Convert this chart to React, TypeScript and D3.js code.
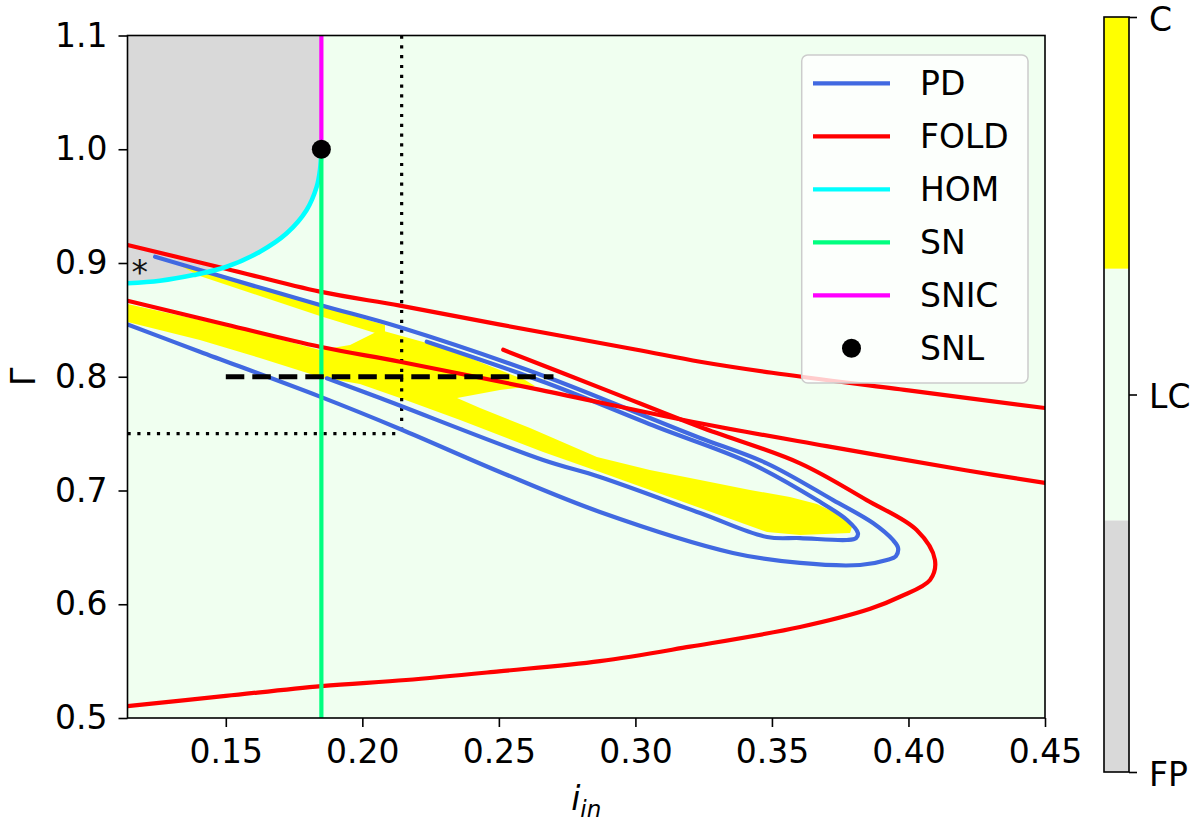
import * as d3 from 'd3'
import { useEffect, useRef } from 'react'

type Pt = [number, number]

// axis ticks / colorbar
const xTicks = [0.15, 0.2, 0.25, 0.3, 0.35, 0.4, 0.45]
const yTicks = [0.5, 0.6, 0.7, 0.8, 0.9, 1.0, 1.1]
const regionLabels = ['FP', 'LC', 'C']
const regionColors = ['#d9d9d9', '#f0fff0', '#ffff00']

// single points / reference lines
const snI = 0.185
const snlPoint: Pt = [0.185, 1.0]
const starPoint: Pt = [0.1185, 0.897]
const dottedI = 0.2144
const dottedG = 0.75
const dashedG = 0.8
const dashedFrom = 0.15
const dashedTo = 0.27

// bifurcation curves (i_in, Gamma)
const homCurve: Pt[] = [
  [0.185, 1.0], [0.1845, 0.982], [0.1833, 0.9671], [0.1796, 0.9466], [0.1723, 0.9261],
  [0.1625, 0.9099], [0.1503, 0.8967], [0.1381, 0.8894], [0.1259, 0.8844], [0.114, 0.8822],
]
const foldUpper: Pt[] = [
  [0.114, 0.9158], [0.15, 0.895], [0.1845, 0.8748], [0.2138, 0.8625], [0.25, 0.846],
  [0.3, 0.824], [0.3237, 0.8132], [0.35, 0.8035], [0.4, 0.788], [0.45, 0.7725],
]
const foldLower: Pt[] = [
  [0.114, 0.8668], [0.15, 0.846], [0.1845, 0.8264], [0.2138, 0.8132], [0.2651, 0.7885],
  [0.3237, 0.7591], [0.37, 0.739], [0.4209, 0.7178], [0.45, 0.7066],
]
const foldLoop: Pt[] = [
  [0.2516, 0.8237], [0.29, 0.7876], [0.3237, 0.7558], [0.3603, 0.7239], [0.3847, 0.6916],
  [0.403, 0.6653], [0.4097, 0.6389], [0.4079, 0.6213], [0.3969, 0.6066], [0.386, 0.596],
  [0.3603, 0.58], [0.32, 0.5627], [0.287, 0.55], [0.25, 0.541], [0.216, 0.5334],
  [0.185, 0.5281], [0.15, 0.5194], [0.114, 0.5104],
]
const pdOuter: Pt[] = [
  [0.1241, 0.9055], [0.1405, 0.8938], [0.1845, 0.8631], [0.2138, 0.8435], [0.2675, 0.7998],
  [0.3053, 0.7637], [0.3237, 0.7462], [0.3481, 0.7239], [0.3724, 0.6916], [0.387, 0.6714],
  [0.3943, 0.6565], [0.3962, 0.6494], [0.3954, 0.6424], [0.3921, 0.6389], [0.3823, 0.6345],
  [0.3603, 0.6363], [0.3357, 0.6451], [0.287, 0.6811], [0.2504, 0.7163], [0.2138, 0.7541],
  [0.1845, 0.7825], [0.1405, 0.822], [0.114, 0.8459],
]
const pdInner: Pt[] = [
  [0.2236, 0.8308], [0.2675, 0.7945], [0.3079, 0.7558], [0.342, 0.7242], [0.3665, 0.6916],
  [0.3775, 0.6741], [0.3815, 0.6626], [0.3808, 0.6582], [0.3775, 0.6565], [0.3603, 0.6582],
  [0.3482, 0.6591], [0.3237, 0.6802], [0.287, 0.7119], [0.2662, 0.7268], [0.2065, 0.7813],
  [0.187, 0.7986],
]

// chaotic regions (outlines)
const chaosUpper: Pt[] = [
  [0.1314, 0.9], [0.1625, 0.878], [0.1845, 0.8622], [0.2083, 0.8455],
  [0.2083, 0.8358], [0.1845, 0.8534], [0.1625, 0.871], [0.1405, 0.8886],
]
const chaosMain: Pt[] = [
  [0.114, 0.864], [0.1405, 0.8499], [0.1625, 0.8376], [0.1845, 0.8235], [0.1955, 0.8279],
  [0.2065, 0.8411], [0.2236, 0.8297], [0.2394, 0.8165], [0.2596, 0.7971], [0.2632, 0.7919],
  [0.2504, 0.7884], [0.2347, 0.7813], [0.2431, 0.7725], [0.2614, 0.7549], [0.2859, 0.7295],
  [0.3053, 0.718], [0.3237, 0.7092], [0.342, 0.7004], [0.3566, 0.6943], [0.3665, 0.6881],
  [0.3749, 0.6785], [0.3793, 0.6679], [0.3786, 0.6626], [0.3603, 0.6609], [0.3482, 0.6635],
  [0.3237, 0.6846], [0.287, 0.7163], [0.2662, 0.7338], [0.2358, 0.762], [0.2138, 0.7813],
  [0.1991, 0.7936], [0.1845, 0.7998], [0.1625, 0.8165], [0.1405, 0.8323], [0.114, 0.8481],
]

const legendItems = [
  { label: 'PD', color: '#4169e1', kind: 'line' },
  { label: 'FOLD', color: '#ff0000', kind: 'line' },
  { label: 'HOM', color: '#00ffff', kind: 'line' },
  { label: 'SN', color: '#00ff7f', kind: 'line' },
  { label: 'SNIC', color: '#ff00ff', kind: 'line' },
  { label: 'SNL', color: '#000000', kind: 'dot' },
]

const W = 1200
const H = 821
const plot = { left: 127.5, right: 1045, top: 35.5, bottom: 718 }
const cbar = { left: 1104, right: 1129, top: 17, bottom: 772 }
const FS = 33

export default function App() {
  const ref = useRef<SVGSVGElement>(null)
  useEffect(() => {
    const svg = d3.select(ref.current)
    svg.selectAll('*').remove()
    const x = d3.scaleLinear().domain([0.114, 0.45]).range([plot.left, plot.right])
    const y = d3.scaleLinear().domain([0.5, 1.1]).range([plot.bottom, plot.top])
    const smooth = d3.line<Pt>().x(d => x(d[0])).y(d => y(d[1])).curve(d3.curveCatmullRom.alpha(0.5))
    const poly = d3.line<Pt>().x(d => x(d[0])).y(d => y(d[1])).curve(d3.curveLinearClosed)

    svg.append('defs').append('clipPath').attr('id', 'plotClip')
      .append('rect').attr('x', plot.left).attr('y', plot.top)
      .attr('width', plot.right - plot.left).attr('height', plot.bottom - plot.top)

    // background (LC)
    svg.append('rect').attr('x', plot.left).attr('y', plot.top)
      .attr('width', plot.right - plot.left).attr('height', plot.bottom - plot.top)
      .attr('fill', regionColors[1])

    const g = svg.append('g').attr('clip-path', 'url(#plotClip)')

    // FP region left of HOM / SNIC
    const greyPath = smooth(homCurve) + `L${x(0.114)},${y(1.1)}L${x(snI)},${y(1.1)}Z`
    g.append('path').attr('d', greyPath).attr('fill', regionColors[0])

    // chaos
    g.append('path').attr('d', poly(chaosUpper)).attr('fill', regionColors[2])
    g.append('path').attr('d', poly(chaosMain)).attr('fill', regionColors[2])

    // dotted guides
    const dotted = { stroke: '#000', 'stroke-width': 3.2, 'stroke-dasharray': '3.2 6.6' }
    const vd = g.append('line').attr('x1', x(dottedI)).attr('x2', x(dottedI)).attr('y1', y(1.1)).attr('y2', y(dottedG))
    const hd = g.append('line').attr('x1', x(0.114)).attr('x2', x(dottedI)).attr('y1', y(dottedG)).attr('y2', y(dottedG))
    Object.entries(dotted).forEach(([k, v]) => { vd.attr(k, v); hd.attr(k, v) })

    const curve = (data: Pt[], color: string, w = 4.2) =>
      g.append('path').attr('d', smooth(data)).attr('fill', 'none').attr('stroke', color)
        .attr('stroke-width', w).attr('stroke-linecap', 'round').attr('stroke-linejoin', 'round')

    curve(pdOuter, legendItems[0].color)
    curve(pdInner, legendItems[0].color)
    curve(foldUpper, legendItems[1].color)
    curve(foldLower, legendItems[1].color)
    curve(foldLoop, legendItems[1].color)
    curve(homCurve, legendItems[2].color, 4.6)

    g.append('line').attr('x1', x(snI)).attr('x2', x(snI)).attr('y1', y(0.5)).attr('y2', y(snlPoint[1]))
      .attr('stroke', legendItems[3].color).attr('stroke-width', 4.2)
    g.append('line').attr('x1', x(snI)).attr('x2', x(snI)).attr('y1', y(snlPoint[1])).attr('y2', y(1.1))
      .attr('stroke', legendItems[4].color).attr('stroke-width', 4.2)

    // dashed line
    g.append('line').attr('x1', x(dashedFrom)).attr('x2', x(dashedTo)).attr('y1', y(dashedG)).attr('y2', y(dashedG))
      .attr('stroke', '#000').attr('stroke-width', 5).attr('stroke-dasharray', '18.5 8')

    g.append('circle').attr('cx', x(snlPoint[0])).attr('cy', y(snlPoint[1])).attr('r', 9.5).attr('fill', '#000')

    svg.append('text').attr('x', x(starPoint[0])).attr('y', y(starPoint[1]))
      .attr('dy', '0.54em').attr('text-anchor', 'middle').attr('font-size', FS).attr('fill', '#111')
      .text('*')

    // frame
    svg.append('rect').attr('x', plot.left).attr('y', plot.top)
      .attr('width', plot.right - plot.left).attr('height', plot.bottom - plot.top)
      .attr('fill', 'none').attr('stroke', '#000').attr('stroke-width', 1.6)

    // axes
    const xAxis = d3.axisBottom(x).tickValues(xTicks).tickFormat(d3.format('.2f')).tickSize(9).tickSizeOuter(0).tickPadding(13)
    const yAxis = d3.axisLeft(y).tickValues(yTicks).tickFormat(d3.format('.1f')).tickSize(9).tickSizeOuter(0).tickPadding(11)
    const xg = svg.append('g').attr('transform', `translate(0,${plot.bottom})`).call(xAxis)
    const yg = svg.append('g').attr('transform', `translate(${plot.left},0)`).call(yAxis)
    ;[xg, yg].forEach(a => {
      a.select('.domain').remove()
      a.selectAll('line').attr('stroke', '#000').attr('stroke-width', 1.6)
      a.selectAll('text').attr('font-size', FS).attr('font-family', 'DejaVu Sans').attr('fill', '#000')
    })

    // axis labels
    const xl = svg.append('text').attr('x', (plot.left + plot.right) / 2).attr('y', 810)
      .attr('text-anchor', 'middle').attr('font-size', FS).attr('font-style', 'italic')
    xl.append('tspan').text('i')
    xl.append('tspan').attr('font-size', 23).attr('dy', 7).text('in')
    svg.append('text').attr('transform', `translate(35,${(plot.top + plot.bottom) / 2}) rotate(-90)`)
      .attr('text-anchor', 'middle').attr('font-size', FS).text('Γ')

    // legend
    const lg = svg.append('g')
    lg.append('rect').attr('x', 801.7).attr('y', 55).attr('width', 226.3).attr('height', 328).attr('rx', 6)
      .attr('fill', '#ffffff').attr('fill-opacity', 0.8).attr('stroke', '#cccccc').attr('stroke-width', 1.5)
    legendItems.forEach((it, k) => {
      const cy = 83.3 + k * 53
      if (it.kind === 'line') {
        lg.append('line').attr('x1', 813).attr('x2', 890).attr('y1', cy).attr('y2', cy)
          .attr('stroke', it.color).attr('stroke-width', 4.2)
      } else {
        lg.append('circle').attr('cx', 851.5).attr('cy', cy).attr('r', 9.5).attr('fill', it.color)
      }
      lg.append('text').attr('x', 920).attr('y', cy).attr('dy', '0.36em').attr('font-size', FS).text(it.label)
    })

    // colorbar
    const cy = d3.scaleLinear().domain([0, regionColors.length]).range([cbar.bottom, cbar.top])
    svg.append('g').selectAll('rect').data(regionColors).enter().append('rect')
      .attr('x', cbar.left).attr('width', cbar.right - cbar.left)
      .attr('y', (d, i) => cy(i + 1)).attr('height', (d, i) => cy(i) - cy(i + 1))
      .attr('fill', d => d)
    svg.append('rect').attr('x', cbar.left).attr('y', cbar.top).attr('width', cbar.right - cbar.left)
      .attr('height', cbar.bottom - cbar.top).attr('fill', 'none').attr('stroke', '#000').attr('stroke-width', 1.6)
    const cAxis = d3.axisRight(cy).tickValues([0, 1.5, 3]).tickFormat((d, i) => regionLabels[i]).tickSize(8).tickSizeOuter(0).tickPadding(12)
    const cg = svg.append('g').attr('transform', `translate(${cbar.right},0)`).call(cAxis)
    cg.select('.domain').remove()
    cg.selectAll('line').attr('stroke', '#000').attr('stroke-width', 1.6)
    cg.selectAll('text').attr('font-size', FS).attr('font-family', 'DejaVu Sans').attr('fill', '#000').attr('dy', '0.4em')
  }, [])
  return (
    <svg ref={ref} width={W} height={H}
      style={{ position: 'absolute', left: 0, top: 0, fontFamily: 'DejaVu Sans', background: '#fff' }} />
  )
}
